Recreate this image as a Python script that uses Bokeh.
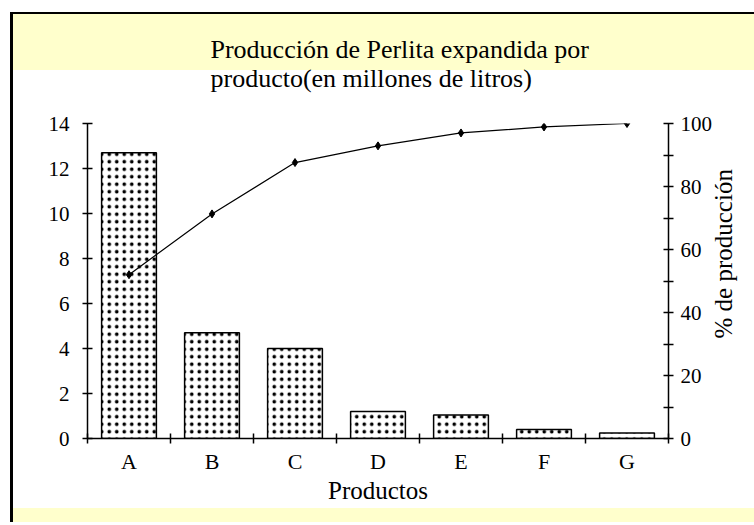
import math
from bokeh.plotting import figure
from bokeh.models import Range1d, LinearAxis, FixedTicker, ColumnDataSource
from bokeh.embed import file_html
from bokeh.resources import INLINE

# ---- data ----
categories = ["A", "B", "C", "D", "E", "F", "G"]
production = [12.7, 4.7, 4.0, 1.2, 1.05, 0.4, 0.25]          # millones de litros
cumulative_pct = [52.0, 71.3, 87.6, 92.9, 97.0, 98.9, 100.0]  # % acumulado
left_ticks = [0, 2, 4, 6, 8, 10, 12, 14]
right_ticks = [0, 20, 40, 60, 80, 100]
right_minor_ticks = [10, 30, 50, 70, 90]

title_text = "Producción de Perlita expandida por\nproducto(en millones de litros)"
x_label = "Productos"
right_label = "% de producción"

FONT = "Liberation Serif"

positions = list(range(1, len(categories) + 1))
boundaries = [p - 0.5 for p in positions] + [positions[-1] + 0.5]

src = ColumnDataSource(dict(x=positions, prod=production, pct=cumulative_pct))

W, H = 754, 522
FL, FR, FT, FB = 87, 668, 123, 438   # frame edges on the page
p = figure(width=W, height=H,
           x_range=Range1d(0.5, len(categories) + 0.5),
           y_range=Range1d(left_ticks[0], left_ticks[-1]),
           output_backend="svg", toolbar_location=None,
           min_border_left=FL, min_border_right=W - FR,
           min_border_top=FT, min_border_bottom=H - FB)
p.extra_y_ranges = {"pct": Range1d(right_ticks[0], right_ticks[-1])}

p.border_fill_color = None
p.background_fill_color = "white"
p.outline_line_color = None
p.grid.visible = False

p.styles = {
    "background": (
        "linear-gradient(#000,#000) 10px 12px / 3px calc(100% - 12px) no-repeat, "
        "linear-gradient(#000,#000) 10px 12px / calc(100% - 10px) 2px no-repeat, "
        "linear-gradient(#FFFFCC,#FFFFCC) 10px 12px / calc(100% - 10px) 58px no-repeat, "
        "linear-gradient(#FFFFCC,#FFFFCC) 10px 508px / calc(100% - 10px) calc(100% - 508px) no-repeat, "
        "#ffffff"
    )
}

# title
p.title.text = title_text
p.title.align = "left"
p.title.offset = 123
p.title.standoff = 62
p.title.text_font = FONT
p.title.text_font_size = "26px"
p.title.text_font_style = "normal"
p.title.text_color = "black"
p.title.text_line_height = 1.0

# bars with a fine dotted fill
p.vbar(x="x", top="prod", width=0.66, source=src,
       fill_color="white", line_color="black", line_width=1.5,
       hatch_pattern=".", hatch_color="black", hatch_scale=7.5, hatch_weight=0.5)

# cumulative line
p.line(x="x", y="pct", source=src, y_range_name="pct", line_color="black", line_width=1.2)
p.scatter(x="x", y="pct", source=src, y_range_name="pct", marker="diamond",
          size=8, fill_color="black", line_color="black")

def style_axis(ax):
    ax.axis_line_color = "black"
    ax.axis_line_width = 1.5
    ax.major_tick_line_color = "black"
    ax.minor_tick_line_color = "black"
    ax.major_tick_line_width = 1.5
    ax.minor_tick_line_width = 1.5
    ax.major_label_text_font = FONT
    ax.major_label_text_font_size = "21px"
    ax.major_label_text_color = "black"
    ax.axis_label_text_font = FONT
    ax.axis_label_text_font_size = "25px"
    ax.axis_label_text_font_style = "normal"
    ax.axis_label_text_color = "black"

# x axis
xa = p.xaxis[0]
xa.ticker = FixedTicker(ticks=positions, minor_ticks=boundaries)
xa.major_label_overrides = {pos: c for pos, c in zip(positions, categories)}
style_axis(xa)
xa.major_label_text_font_size = "22px"
xa.major_tick_in = 0
xa.major_tick_out = 0
xa.minor_tick_in = 5
xa.minor_tick_out = 5
xa.major_label_standoff = 5
xa.axis_label = x_label
xa.axis_label_standoff = 0

# left axis
ya = p.yaxis[0]
ya.ticker = FixedTicker(ticks=left_ticks, minor_ticks=[])
style_axis(ya)
ya.major_tick_in = 5
ya.major_tick_out = 5
ya.major_label_standoff = 13

# right axis (ticks and numbers)
ra = LinearAxis(y_range_name="pct",
                ticker=FixedTicker(ticks=right_ticks, minor_ticks=right_minor_ticks))
style_axis(ra)
ra.major_tick_in = 5
ra.major_tick_out = 5
ra.minor_tick_in = 5
ra.minor_tick_out = 5
ra.major_label_standoff = 7
p.add_layout(ra, "right")

# right-hand axis title, reading bottom to top: carried by a bare axis
# as a single rotated tick label, so that it sits where the reference has it
label_bottom_px = 338
anchor_val = right_ticks[-1] * (FB - label_bottom_px) / (FB - FT)
la = LinearAxis(y_range_name="pct", ticker=FixedTicker(ticks=[anchor_val], minor_ticks=[]))
style_axis(la)
la.axis_line_color = None
la.major_tick_line_color = None
la.major_tick_out = 0
la.major_tick_in = 0
la.major_label_overrides = {anchor_val: right_label}
la.major_label_orientation = math.pi / 2
la.major_label_text_font_size = "25px"
la.major_label_standoff = 8
p.add_layout(la, "right")

open("out.html", "w").write(file_html(p, INLINE))
